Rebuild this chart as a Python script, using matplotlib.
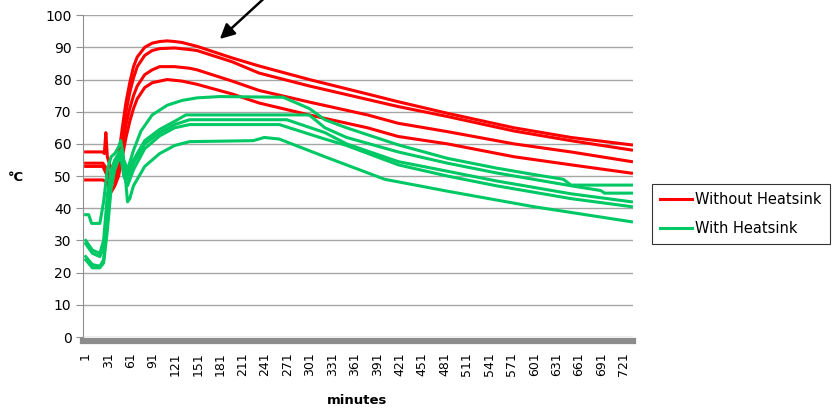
import matplotlib.pyplot as plt

# minutes / degrees C, four runs without heatsink
r1_x = [1, 24, 26, 28, 30, 35, 40, 45, 50, 55, 60, 65, 70, 80, 90, 100, 110, 120, 130, 150, 197, 233, 300, 378, 419, 485, 574, 650, 731]
r1_y = [57.5, 57.5, 57, 63.5, 56, 52, 52, 56, 65, 73, 79, 84, 87, 90, 91.3, 91.8, 92, 91.8, 91.5, 90.3, 86.7, 84.2, 80, 75.5, 73.1, 69.5, 65, 62, 59.7]
r2_x = [1, 24, 30, 35, 40, 45, 50, 55, 60, 65, 70, 80, 90, 100, 120, 140, 150, 197, 233, 300, 378, 419, 485, 574, 650, 731]
r2_y = [54, 54, 52, 48, 50, 54, 62, 70, 76, 80.5, 84, 87.5, 89, 89.6, 89.8, 89.3, 89, 85.5, 82, 78, 73.8, 71.6, 68.5, 64, 61, 58.1]
r3_x = [1, 24, 30, 35, 40, 45, 50, 55, 60, 65, 70, 80, 90, 100, 120, 140, 150, 197, 233, 300, 378, 419, 485, 574, 650, 731]
r3_y = [53, 53, 50, 47, 49, 52, 59, 66, 71, 75, 78, 81.5, 83, 84, 84, 83.5, 83, 79.5, 76.6, 73, 69, 66.4, 63.8, 60, 57.5, 54.5]
r4_x = [1, 24, 30, 35, 40, 45, 50, 55, 60, 65, 70, 80, 90, 100, 110, 130, 150, 197, 233, 300, 378, 419, 485, 574, 650, 731]
r4_y = [48.8, 48.8, 48, 45, 47, 50, 56, 62, 67, 71, 74, 77.5, 79, 79.5, 80, 79.5, 78.5, 75.5, 72.7, 69, 65, 62.3, 60, 56, 53.5, 50.9]

# five runs with heatsink
g1_x = [1, 5, 9, 20, 25, 30, 35, 40, 45, 48, 52, 57, 65, 75, 90, 110, 130, 150, 180, 265, 300, 321, 350, 419, 485, 550, 600, 640, 650, 731]
g1_y = [38, 38, 35.3, 35.3, 42, 52, 56, 57, 59, 61, 55, 52, 58, 64, 69, 72, 73.5, 74.3, 74.7, 74.5, 71, 67.5, 65, 59.7, 55.5, 52.5, 50.5, 49, 47.2, 47.2]
g2_x = [1, 10, 20, 25, 30, 35, 40, 45, 48, 52, 57, 65, 80, 100, 120, 135, 300, 321, 350, 419, 485, 550, 600, 650, 690, 695, 731]
g2_y = [30, 27, 26, 30, 44, 52, 55, 57, 58, 54, 50, 55, 61, 64.5, 67, 69, 69, 65, 62, 57.5, 54, 51, 49, 47, 45.5, 44.7, 44.7]
g3_x = [1, 10, 20, 25, 30, 35, 40, 45, 48, 52, 57, 65, 80, 100, 120, 140, 270, 321, 350, 419, 485, 550, 600, 650, 731]
g3_y = [29, 26, 25, 28, 40, 50, 54, 56, 57, 52, 49, 54, 60, 63.5, 66, 67.5, 67.5, 63.5, 60, 54.5, 51.5, 48.5, 46.5, 44.5, 42]
g4_x = [1, 10, 20, 25, 30, 35, 40, 45, 48, 52, 57, 65, 80, 100, 120, 140, 260, 321, 350, 419, 485, 550, 600, 650, 731]
g4_y = [25, 22.5, 22, 24, 36, 48, 53, 55, 56, 50, 47, 52, 58.5, 62.5, 65, 66, 66, 61.5, 59.5, 53.5, 50, 47, 45, 43, 40.5]
g5_x = [1, 10, 20, 25, 30, 35, 40, 45, 50, 54, 57, 60, 65, 80, 100, 120, 140, 225, 240, 260, 321, 401, 485, 600, 731]
g5_y = [24, 21.5, 21.5, 23, 33, 46, 52, 55, 58, 50, 42, 43, 47, 53, 57, 59.5, 60.7, 61, 62, 61.5, 56, 49, 45.3, 40.5, 35.8]

x_ticks = list(range(1, 722, 30))
y_ticks = list(range(0, 101, 10))

red = '#ff0000'
green = '#00c864'

fig = plt.figure(figsize=(8.35, 4.09), dpi=100)
ax = fig.add_axes([0.099, 0.176, 0.659, 0.787])

ax.plot(r1_x, r1_y, color=red, lw=2.2, label='Without Heatsink')
ax.plot(r2_x, r2_y, color=red, lw=2.2)
ax.plot(r3_x, r3_y, color=red, lw=2.2)
ax.plot(r4_x, r4_y, color=red, lw=2.2)
ax.plot(g1_x, g1_y, color=green, lw=2.2, label='With Heatsink')
ax.plot(g2_x, g2_y, color=green, lw=2.2)
ax.plot(g3_x, g3_y, color=green, lw=2.2)
ax.plot(g4_x, g4_y, color=green, lw=2.2)
ax.plot(g5_x, g5_y, color=green, lw=2.2)

ax.set_xlim(-3, 733)
ax.set_ylim(0, 100)
ax.set_yticks(y_ticks)
ax.set_xticks(x_ticks)
ax.set_xticklabels([str(t) for t in x_ticks])
ax.tick_params(axis='y', labelsize=10, length=5, color='#909090', pad=3)
ax.tick_params(axis='x', length=0, pad=8, labelsize=9, labelrotation=90)
ax.grid(axis='y', color='#a6a6a6', lw=1)
ax.set_axisbelow(True)

for s in ['top', 'right']:
    ax.spines[s].set_visible(False)
ax.spines['left'].set_color('#909090')
# thick grey floor under the zero line
ax.spines['bottom'].set_position(('outward', 3))
ax.spines['bottom'].set_color('#8c8c8c')
ax.spines['bottom'].set_linewidth(4.5)

fig.text(0.009, 0.566, '°C', fontsize=9.5, fontweight='bold', va='center')
fig.text(0.428, 0.02, 'minutes', fontsize=9.5, fontweight='bold', ha='center', va='center')

ax.annotate('', xy=(177.7, 92.0), xytext=(241, 105.5),
            arrowprops=dict(arrowstyle='-|>', lw=1.8, color='black', mutation_scale=22),
            annotation_clip=False)

leg = fig.legend(loc='upper left', bbox_to_anchor=(0.781, 0.55), fontsize=10.5,
                 frameon=True, fancybox=False, edgecolor='black', handlelength=2.2,
                 handletextpad=0.2, borderpad=0.55, labelspacing=0.95, borderaxespad=0)
leg.get_frame().set_linewidth(0.8)

fig.savefig('out.png', dpi=100)
